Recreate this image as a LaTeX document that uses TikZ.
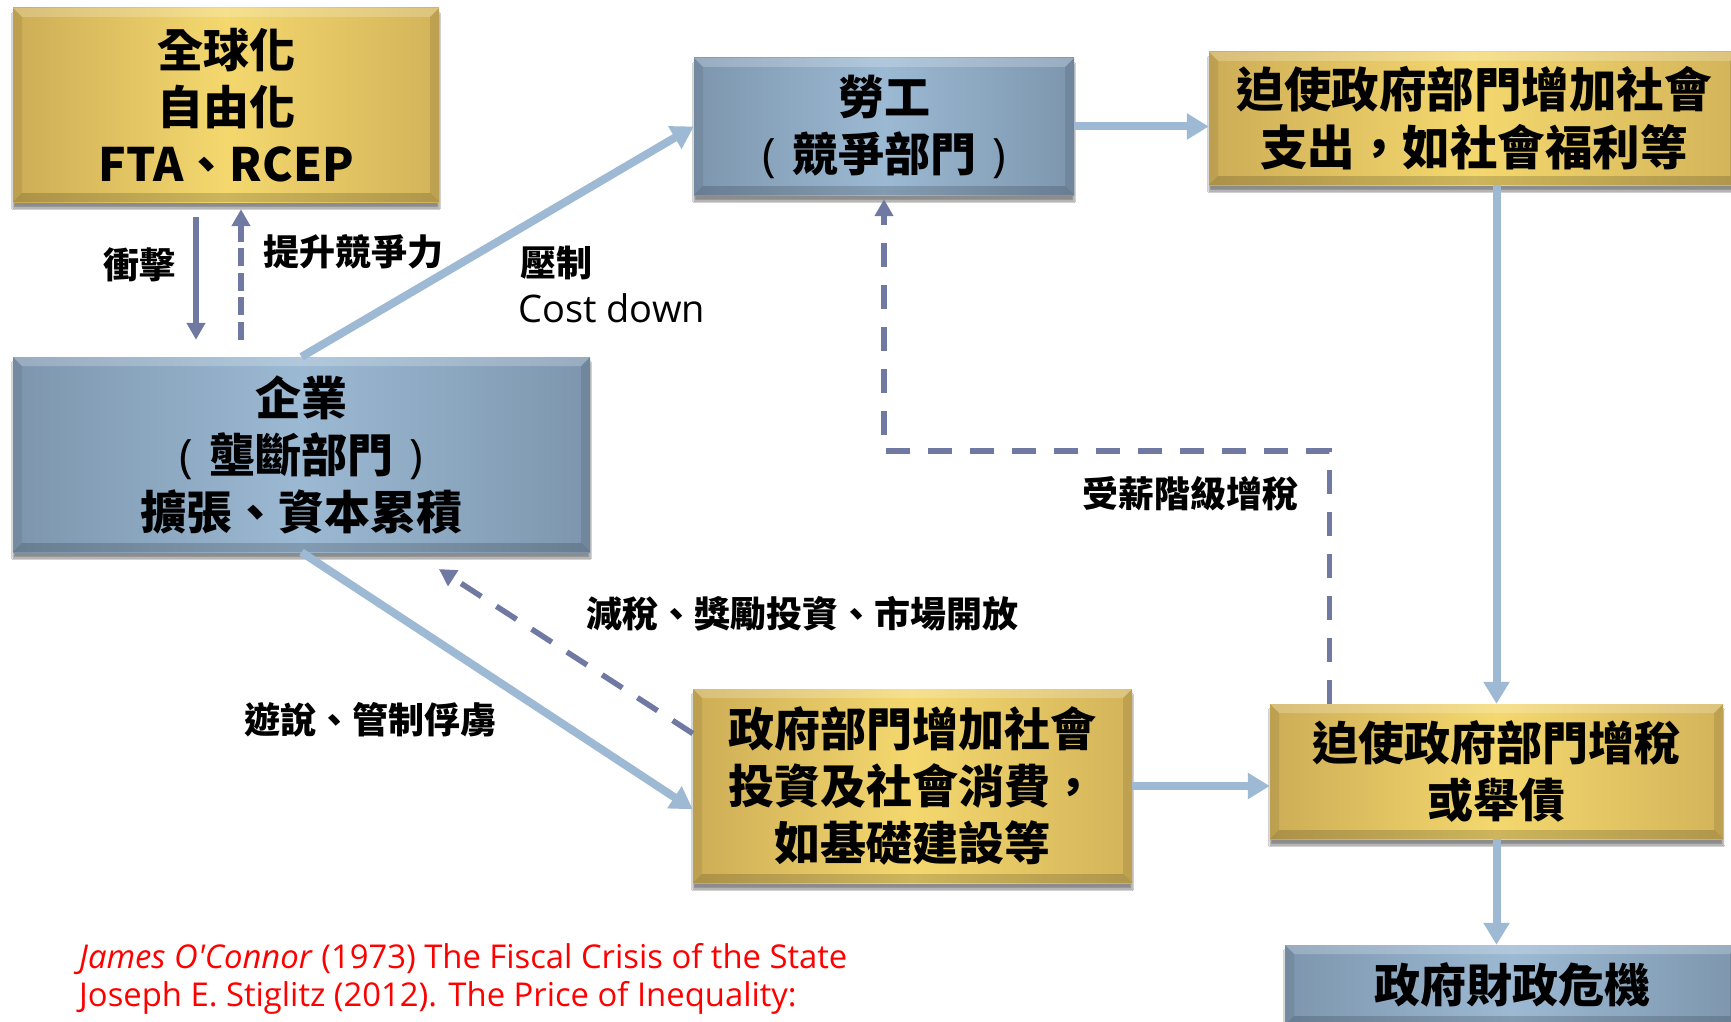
\documentclass[tikz,border=0pt]{standalone}
\usepackage{fontspec}
\newfontfamily\cjk{Noto Sans CJK TC}
\newfontfamily\latinfont{Open Sans}
\usetikzlibrary{arrows.meta,shadows.blur,calc}
\definecolor{goldL}{HTML}{F4D86E}
\definecolor{goldD}{HTML}{CDAD56}
\definecolor{blueL}{HTML}{9CB9D3}
\definecolor{blueD}{HTML}{7D96AE}
\definecolor{arrowL}{HTML}{9DB9D3}
\definecolor{arrowD}{HTML}{6F79A1}
\definecolor{refred}{HTML}{FF0000}
\newcommand{\thinparen}[1]{{\latinfont\mdseries #1}}
\begin{document}
\begin{tikzpicture}[x=1pt,y=-1pt,
  boxbase/.style={inner sep=0pt, align=center,
    font=\cjk\bfseries\fontsize{46}{57}\selectfont,
    blur shadow={shadow xshift=0pt, shadow yshift=-6pt, shadow blur steps=6, shadow opacity=45},
    path picture={
      \coordinate (bnw) at (path picture bounding box.north west);
      \coordinate (bne) at (path picture bounding box.north east);
      \coordinate (bsw) at (path picture bounding box.south west);
      \coordinate (bse) at (path picture bounding box.south east);
      \fill[white,opacity=0.22] (bnw) -- (bne) -- ([xshift=-9pt,yshift=-9pt]bne) -- ([xshift=9pt,yshift=-9pt]bnw) -- cycle;
      \fill[black,opacity=0.16] (bsw) -- (bse) -- ([xshift=-9pt,yshift=9pt]bse) -- ([xshift=9pt,yshift=9pt]bsw) -- cycle;
      \fill[black,opacity=0.08] (bnw) -- (bsw) -- ([xshift=9pt,yshift=9pt]bsw) -- ([xshift=9pt,yshift=-9pt]bnw) -- cycle;
      \fill[black,opacity=0.10] (bne) -- (bse) -- ([xshift=-9pt,yshift=9pt]bse) -- ([xshift=-9pt,yshift=-9pt]bne) -- cycle;
    }},
  goldbox/.style={boxbase, left color=goldD, right color=goldD!85!goldL, middle color=goldL},
  bluebox/.style={boxbase, left color=blueD, right color=blueD, middle color=blueL},
  lbl/.style={inner sep=0pt, font=\cjk\bfseries\fontsize{36}{44}\selectfont},
  lightarrow/.style={draw=arrowL, line width=8pt, -{Triangle[length=22pt,width=25pt]}},
  darkarrow/.style={draw=arrowD, line width=5.5pt, -{Triangle[length=17pt,width=18pt]}},
  longdash/.style={dash pattern=on 24pt off 18pt},
  shortdash/.style={dash pattern=on 18pt off 6.5pt}
]
\clip (0,0) rectangle (1731,1022);
\fill[white] (0,0) rectangle (1731,1022);

% boxes
\node[goldbox, minimum width=426, minimum height=194] (glob) at (226,105) {全球化\\自由化\\FTA、RCEP};
\node[bluebox, minimum width=380, minimum height=137] (labor) at (884,126.5)
  {勞工\\\thinparen{(}\hspace{16pt}競爭部門\hspace{16pt}\thinparen{)}};
\node[goldbox, minimum width=530, minimum height=133, font=\cjk\bfseries\fontsize{47.5}{58}\selectfont] (welfare) at (1474,118.5)
  {迫使政府部門增加社會\\支出，如社會福利等};
\node[bluebox, minimum width=577, minimum height=195] (firm) at (301.5,454.5)
  {企業\\\thinparen{(}\hspace{16pt}壟斷部門\hspace{16pt}\thinparen{)}\\擴張、資本累積};
\node[goldbox, minimum width=439, minimum height=194] (gov) at (912.5,786) {政府部門增加社會\\投資及社會消費，\\如基礎建設等};
\node[goldbox, minimum width=453, minimum height=135] (tax) at (1496.5,771.5) {迫使政府部門增稅\\或舉債};
\node[bluebox, minimum width=454, minimum height=80] (crisis) at (1512,985) {政府財政危機};

% labels
\node[lbl] (l1) at (139,265) {衝擊};
\node[lbl] (l2) at (353,252) {提升競爭力};
\node[lbl, anchor=west] (l3) at (520,263) {壓制};
\node[inner sep=0pt, anchor=base west, font=\latinfont\fontsize{38}{44}\selectfont] (l4) at (518,322) {Cost down};
\node[lbl] (l5) at (1190,494) {受薪階級增稅};
\node[lbl] (l6) at (802,614) {減稅、獎勵投資、市場開放};
\node[lbl] (l7) at (370,720) {遊說、管制俘虜};
\node[inner sep=0pt, anchor=west, align=left, text=refred, font=\latinfont\fontsize{32.8}{38}\selectfont] (cite) at (79,979)
  {\textit{James O'Connor} (1973) The Fiscal Crisis of the State\\Joseph E. Stiglitz (2012). The Price of Inequality:};

% connectors
\draw[darkarrow, shorten <=15pt, shorten >=17pt] (glob.south -| 196,0) -- (firm.north -| 196,0);
\draw[darkarrow, shortdash, shorten <=17pt, shorten >=7pt] (firm.north -| 241,0) -- (glob.south -| 241,0);
\draw[lightarrow] (firm.north) -- (labor.west);
\draw[lightarrow] ($(firm.south west)!0.5!(firm.south east)$) -- ($(gov.north west)!0.62!(gov.south west)$);
\draw[darkarrow, longdash, shorten >=31pt] ($(gov.north west)!0.23!(gov.south west)$) -- ($(firm.south west)!0.693!(firm.south east)$);
\draw[lightarrow] (labor.east) -- (labor.east -| welfare.west);
\draw[lightarrow] (welfare.south -| tax.north) -- (tax.north);
\draw[lightarrow] (tax.south) -- (tax.south |- crisis.north);
\draw[lightarrow] (gov.east) -- (gov.east -| tax.west);
\coordinate (bend) at (884,451);
\draw[darkarrow, longdash, shorten >=4pt] ($(tax.north west)!0.132!(tax.north east)$) |- (bend) -- (labor.south);
\end{tikzpicture}
\end{document}
